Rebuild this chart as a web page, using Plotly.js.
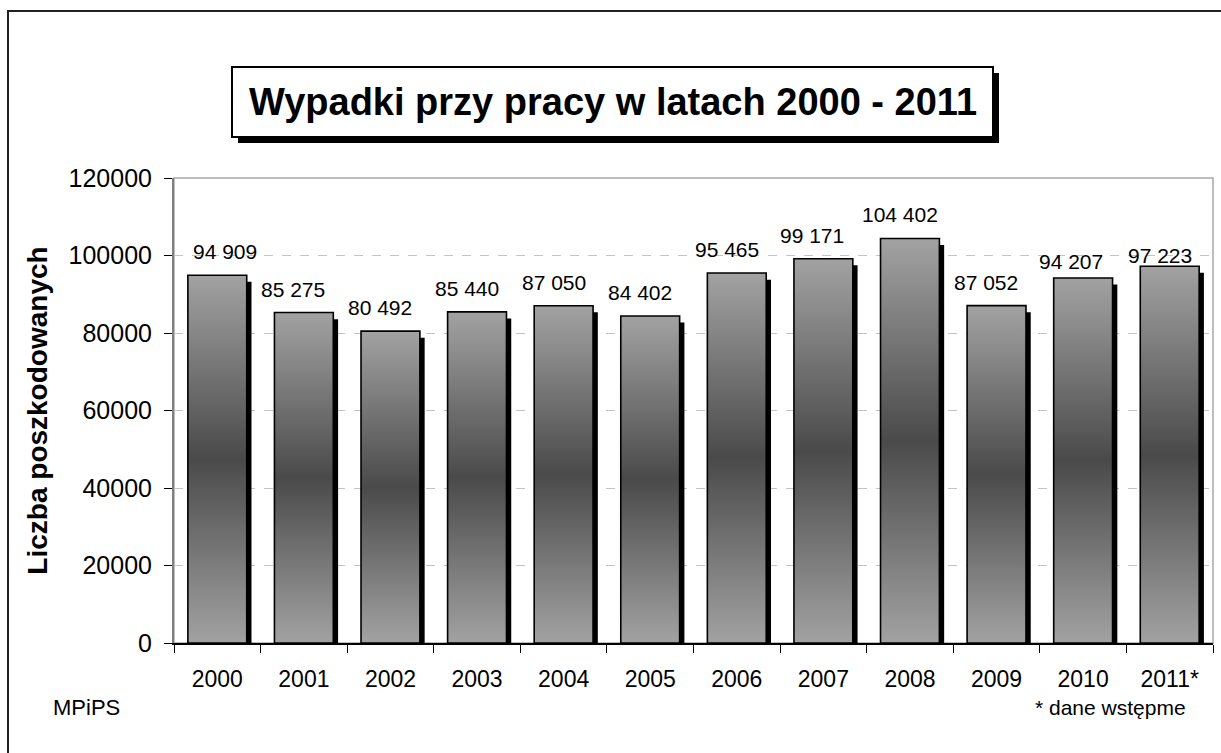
<!DOCTYPE html>
<html>
<head>
<meta charset="utf-8">
<script src="https://cdn.plot.ly/plotly-3.0.1.min.js"></script>
<style>html,body{margin:0;padding:0;background:#fff;}#chart{width:1221px;height:753px;}</style>
</head>
<body>
<div id="chart"></div>
<script>
const years = ['2000','2001','2002','2003','2004','2005','2006','2007','2008','2009','2010','2011*'];
const injured = [94909, 85275, 80492, 85440, 87050, 84402, 95465, 99171, 104402, 87052, 94207, 97223];
const yTicks = [0, 20000, 40000, 60000, 80000, 100000, 120000];
const chartTitle = 'Wypadki przy pracy w latach 2000 - 2011';
const yTitle = 'Liczba poszkodowanych';
const sourceNote = 'MPiPS';
const footNote = '* dane wstępme';

const FONT = 'Liberation Sans, Arial, sans-serif';
const W = 1221, H = 753;
const M = {l: 174, r: 8, t: 178, b: 110};
const PW = W - M.l - M.r, PH = H - M.t - M.b;
const px = x => (x - M.l) / PW;
const py = y => (H - M.b - y) / PH;
const SHADOW_DROP = 1700;

// label placement nudges (px), mirroring the hand-placed labels of the original
const labelDX = [8, -11, -10, -10, -10, -10, -10, -11, -10, -11, -12, -10];
const labelDY = [10, 10, 10, 10, 10, 10, 10, 10, 10, 10, 3, -3];

const fmt = v => String(v).replace(/\B(?=(\d{3})+(?!\d))/g, ' ');

const shadow = {
  type: 'bar', x: years, y: injured.map(v => v - SHADOW_DROP),
  width: 0.68, offset: -0.34 + 0.055,
  marker: {color: '#000', line: {width: 0}},
  hoverinfo: 'skip', showlegend: false
};
const bars = {
  type: 'bar', x: years, y: injured,
  width: 0.68, offset: -0.34,
  marker: {color: '#8a8a8a', line: {color: '#000', width: 1.6}},
  showlegend: false
};

const annotations = injured.map((v, i) => ({
  x: i, y: v, xref: 'x', yref: 'y', text: fmt(v),
  showarrow: false, yanchor: 'bottom', xanchor: 'center',
  xshift: labelDX[i], yshift: labelDY[i],
  font: {family: FONT, size: 21, color: '#000'}
}));
annotations.push({
  x: px(612.5), y: py(102), xref: 'paper', yref: 'paper', text: '<b>' + chartTitle + '</b>',
  showarrow: false, xanchor: 'center', yanchor: 'middle',
  font: {family: FONT, size: 38, color: '#000'}
});
annotations.push({
  x: px(51), y: py(708), xref: 'paper', yref: 'paper', text: sourceNote,
  showarrow: false, xanchor: 'left', yanchor: 'middle',
  font: {family: FONT, size: 22, color: '#000'}
});
annotations.push({
  x: px(1188), y: py(708), xref: 'paper', yref: 'paper', text: footNote,
  showarrow: false, xanchor: 'right', yanchor: 'middle',
  font: {family: FONT, size: 21, color: '#000'}
});

const shapes = [
  {type: 'rect', xref: 'paper', yref: 'paper', x0: px(8), x1: px(1232), y0: py(11), y1: py(765),
   line: {color: '#222', width: 2}, fillcolor: 'rgba(0,0,0,0)', layer: 'below'},
  {type: 'rect', xref: 'paper', yref: 'paper', x0: 0, x1: 1, y0: 0, y1: 1,
   line: {color: '#a8a8a8', width: 1.5}, fillcolor: 'rgba(0,0,0,0)', layer: 'below'},
  {type: 'rect', xref: 'paper', yref: 'paper', x0: px(238), x1: px(999), y0: py(143), y1: py(73),
   line: {width: 0}, fillcolor: '#000', layer: 'above'},
  {type: 'rect', xref: 'paper', yref: 'paper', x0: px(232), x1: px(993), y0: py(137), y1: py(67),
   line: {color: '#000', width: 2}, fillcolor: '#fff', layer: 'above'}
];

const layout = {
  width: W, height: H, margin: M,
  paper_bgcolor: '#fff', plot_bgcolor: '#fff',
  barmode: 'overlay',
  font: {family: FONT, color: '#000'},
  xaxis: {
    type: 'category', range: [-0.5, years.length - 0.5], autorange: false,
    tickson: 'boundaries', ticks: 'outside', ticklen: 8, tickcolor: '#000', tickwidth: 1,
    showline: true, linecolor: '#000', linewidth: 1.5, showgrid: false, tickangle: 0,
    tickfont: {family: FONT, size: 23, color: '#000'}, ticklabelstandoff: 15, fixedrange: true
  },
  yaxis: {
    range: [0, 120000], autorange: false, tickvals: yTicks, ticktext: yTicks.map(String),
    ticks: 'outside', ticklen: 8, tickcolor: '#000', tickwidth: 1,
    showline: true, linecolor: '#808080', linewidth: 2,
    showgrid: true, gridcolor: '#c4c4c4', griddash: 'dash', gridwidth: 1, zeroline: false,
    tickfont: {family: FONT, size: 25, color: '#000'}, ticklabelstandoff: 7,
    title: {text: '<b>' + yTitle + '</b>', font: {family: FONT, size: 28, color: '#000'}, standoff: 13},
    fixedrange: true
  },
  annotations: annotations,
  shapes: shapes
};

Plotly.newPlot('chart', [shadow, bars], layout, {displayModeBar: false, staticPlot: true}).then(gd => {
  const svg = gd.querySelector('svg.main-svg');
  const defs = svg.querySelector('defs');
  const NS = 'http://www.w3.org/2000/svg';
  const g = document.createElementNS(NS, 'linearGradient');
  g.setAttribute('id', 'barGrad');
  g.setAttribute('x1', '0'); g.setAttribute('y1', '0');
  g.setAttribute('x2', '0'); g.setAttribute('y2', '1');
  [[0, '#a2a2a2'], [0.5, '#4a4a4a'], [1, '#a2a2a2']].forEach(([o, c]) => {
    const s = document.createElementNS(NS, 'stop');
    s.setAttribute('offset', o); s.setAttribute('stop-color', c);
    g.appendChild(s);
  });
  defs.appendChild(g);
  const traces = gd.querySelectorAll('.barlayer .trace');
  const main = traces[traces.length - 1];
  main.querySelectorAll('path').forEach(p => { p.style.fill = 'url(#barGrad)'; });
});
</script>
</body>
</html>
